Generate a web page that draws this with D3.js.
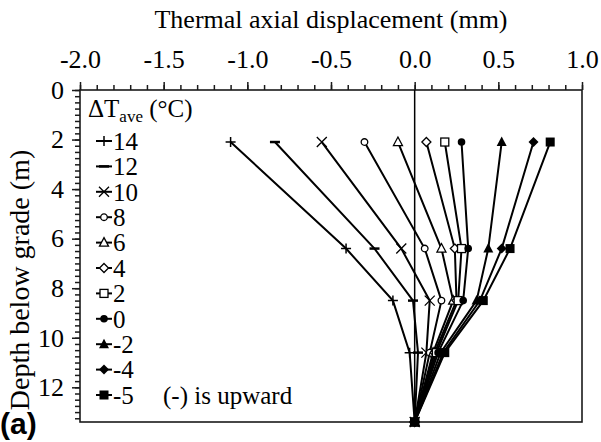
<!DOCTYPE html>
<html><head><meta charset="utf-8">
<script src="https://cdn.jsdelivr.net/npm/d3@7"></script>
<style>body{margin:0;background:#fff} svg{display:block}</style>
</head><body><svg id="c" width="601" height="442"></svg>
<script>
// ---- data ----
const depths = [2.1, 6.4, 8.5, 10.6, 13.4];
const seriesNames = ["14","12","10","8","6","4","2","0","-2","-4","-5"];
const s14 = [-1.10, -0.41, -0.13, -0.03, 0];
const s12 = [-0.835, -0.24, -0.01, 0.02, 0];
const s10 = [-0.555, -0.08, 0.09, 0.07, 0];
const s8  = [-0.30, 0.06, 0.16, 0.09, 0];
const s6  = [-0.10, 0.16, 0.23, 0.11, 0];
const s4  = [0.07, 0.24, 0.25, 0.12, 0];
const s2  = [0.18, 0.28, 0.26, 0.13, 0];
const s0  = [0.28, 0.32, 0.29, 0.14, 0];
const sm2 = [0.52, 0.44, 0.37, 0.155, 0];
const sm4 = [0.71, 0.52, 0.39, 0.17, 0];
const sm5 = [0.81, 0.57, 0.41, 0.18, 0];
const seriesValues = [s14, s12, s10, s8, s6, s4, s2, s0, sm2, sm4, sm5];
const xTickValues = [-2.0, -1.5, -1.0, -0.5, 0.0, 0.5, 1.0];
const yTickValues = [0, 2, 4, 6, 8, 10, 12];

// ---- styles ----
const markerTypes = ["plus","dash","cross","circleO","triO","diaO","sqO","circle","tri","dia","sq"];
const serif = "Liberation Serif";

const svg = d3.select("#c");
const L = 80, R = 582, T = 90, B = 422;
const x = d3.scaleLinear().domain([-2, 1]).range([L, R]);
const y = d3.scaleLinear().domain([0, 13.4]).range([T, B]);

// frame
svg.append("rect").attr("x", L).attr("y", T).attr("width", R - L).attr("height", B - T)
  .attr("fill", "none").attr("stroke", "#1a1a1a").attr("stroke-width", 1.6);
// zero line
svg.append("line").attr("x1", x(0)).attr("x2", x(0)).attr("y1", T).attr("y2", B)
  .attr("stroke", "#000").attr("stroke-width", 1.5);

// x axis (top)
const xMinor = d3.range(-2, 1.0001, 0.1);
svg.append("g").attr("transform", `translate(0,${T})`)
  .call(d3.axisTop(x).tickValues(xMinor).tickSize(5).tickFormat(""))
  .call(g => { g.select(".domain").remove(); g.selectAll("line").attr("stroke", "#1a1a1a").attr("stroke-width", 1.5); });
svg.append("g").attr("transform", `translate(0,${T})`)
  .call(d3.axisTop(x).tickValues(xTickValues).tickSize(8).tickPadding(14).tickFormat(d => d.toFixed(1)))
  .call(g => {
    g.select(".domain").remove();
    g.attr("font-family", serif);
    g.selectAll("line").attr("stroke", "#1a1a1a").attr("stroke-width", 1.5);
    g.selectAll("text").attr("font-family", serif).attr("font-size", 26).attr("fill", "#000");
  });

// y axis (left)
const yMinor = d3.range(0, 13.4, 0.25);
svg.append("g").attr("transform", `translate(${L},0)`)
  .call(d3.axisLeft(y).tickValues(yMinor).tickSize(5).tickFormat(""))
  .call(g => { g.select(".domain").remove(); g.selectAll("line").attr("stroke", "#1a1a1a").attr("stroke-width", 1.5); });
svg.append("g").attr("transform", `translate(${L},0)`)
  .call(d3.axisLeft(y).tickValues(yTickValues).tickSize(8).tickPadding(8).tickFormat(d => String(d)))
  .call(g => {
    g.select(".domain").remove();
    g.attr("font-family", serif);
    g.selectAll("line").attr("stroke", "#1a1a1a").attr("stroke-width", 1.5);
    g.selectAll("text").attr("font-family", serif).attr("font-size", 26).attr("fill", "#000");
  });

// titles
svg.append("text").attr("x", (L + R) / 2).attr("y", 28).attr("text-anchor", "middle")
  .attr("font-family", serif).attr("font-size", 26).text("Thermal axial displacement (mm)");
svg.append("text").attr("transform", `translate(29,${(T + B) / 2 + 24}) rotate(-90)`).attr("text-anchor", "middle")
  .attr("font-family", serif).attr("font-size", 28).text("Depth below grade (m)");

// marker drawing
function drawMarker(g, type, cx, cy) {
  const k = g.append("g").attr("transform", `translate(${cx},${cy})`);
  switch (type) {
    case "plus":
      k.append("path").attr("d", "M-5,0H5M0,-5V5").attr("stroke", "#000").attr("stroke-width", 1.5); break;
    case "dash":
      k.append("path").attr("d", "M-5,0H5").attr("stroke", "#000").attr("stroke-width", 2.5); break;
    case "cross":
      k.append("path").attr("d", "M-5,-5L5,5M-5,5L5,-5").attr("stroke", "#000").attr("stroke-width", 1.3); break;
    case "circleO":
      k.append("circle").attr("r", 3.3).attr("fill", "#fff").attr("stroke", "#000").attr("stroke-width", 1.3); break;
    case "triO":
      k.append("path").attr("d", "M0,-5L4.5,3.5L-4.5,3.5Z").attr("fill", "#fff").attr("stroke", "#000").attr("stroke-width", 1.3); break;
    case "diaO":
      k.append("path").attr("d", "M0,-4.5L4.5,0L0,4.5L-4.5,0Z").attr("fill", "#fff").attr("stroke", "#000").attr("stroke-width", 1.3); break;
    case "sqO":
      k.append("rect").attr("x", -4).attr("y", -4).attr("width", 8).attr("height", 8).attr("fill", "#fff").attr("stroke", "#000").attr("stroke-width", 1.3); break;
    case "circle":
      k.append("circle").attr("r", 3.8).attr("fill", "#000"); break;
    case "tri":
      k.append("path").attr("d", "M0,-5.5L5,4L-5,4Z").attr("fill", "#000"); break;
    case "dia":
      k.append("path").attr("d", "M0,-5L5,0L0,5L-5,0Z").attr("fill", "#000"); break;
    case "sq":
      k.append("rect").attr("x", -4.5).attr("y", -4.5).attr("width", 9).attr("height", 9).attr("fill", "#000"); break;
  }
}

// series
const line = d3.line().x(d => x(d[0])).y(d => y(d[1]));
const plot = svg.append("g");
seriesValues.forEach((vals, i) => {
  const pts = vals.map((v, j) => [v, depths[j]]);
  plot.append("path").attr("d", line(pts)).attr("fill", "none").attr("stroke", "#000").attr("stroke-width", 2);
});
seriesValues.forEach((vals, i) => {
  vals.forEach((v, j) => drawMarker(plot, markerTypes[i], x(v), y(depths[j])));
});

// legend
const lg = svg.append("g");
const lt = lg.append("text").attr("x", 88).attr("y", 117).attr("font-family", serif).attr("font-size", 25);
lt.append("tspan").text("ΔT");
lt.append("tspan").attr("font-size", 17).attr("dy", 5).text("ave");
lt.append("tspan").attr("dy", -5).text(" (°C)");
seriesNames.forEach((name, i) => {
  const cy = 141 + i * 25.4;
  lg.append("line").attr("x1", 96).attr("x2", 112).attr("y1", cy).attr("y2", cy).attr("stroke", "#000").attr("stroke-width", 2);
  drawMarker(lg, markerTypes[i], 104, cy);
  lg.append("text").attr("x", 113).attr("y", cy).attr("dy", "0.35em").attr("font-family", serif).attr("font-size", 25).text(name);
});
svg.append("text").attr("x", 163).attr("y", 141 + 10 * 25.4).attr("dy", "0.35em")
  .attr("font-family", serif).attr("font-size", 25).text("(-) is upward");

// panel label
svg.append("text").attr("x", 0).attr("y", 434).attr("font-family", "Liberation Sans")
  .attr("font-weight", "bold").attr("font-size", 30).text("(a)");
</script></body></html>
